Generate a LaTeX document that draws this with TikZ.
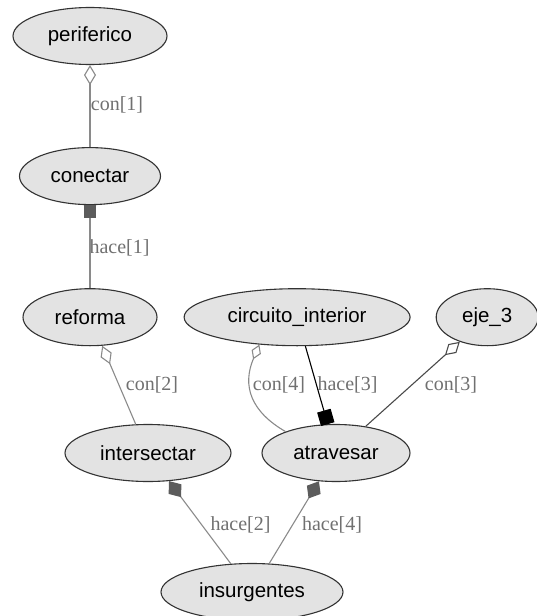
\documentclass[tikz,border=0pt]{standalone}
\usepackage{fontspec}
\setmainfont{Liberation Serif}
\newfontfamily\entfont{Liberation Sans}
\usepackage{tikz}
\usetikzlibrary{arrows.meta,shapes.geometric,positioning}

\definecolor{edgegray}{HTML}{8A8A8A}
\definecolor{darkedge}{HTML}{4A4A4A}
\definecolor{labelgray}{HTML}{707070}
\definecolor{tipgray}{HTML}{5C5C5C}

\begin{document}
\begin{tikzpicture}[x=1pt, y=1pt]
\tikzstyle{entity}=[ellipse,
                    draw=black!80,
                    fill=gray!22,
                    inner sep=0pt,
                    minimum height=57pt,
                    line width=1.1pt,
                    font=\entfont\fontsize{20.5}{24}\selectfont]
\tikzstyle{role}=[text=labelgray,
                  inner sep=0pt,
                  font=\fontsize{20}{24}\selectfont]
\tikzstyle{conedge}=[draw=edgegray, line width=1.1pt,
                     {Diamond[open,length=20pt,width=12pt]}-]
\tikzstyle{haceedge}=[draw=edgegray, line width=1.1pt]
\useasboundingbox (0,0) rectangle (536,-616);

\node[entity, minimum width=154pt] (periferico) at (90,-36) {periferico};
\node[entity, minimum width=141pt, below=82pt of periferico] (conectar) {conectar};
\node[entity, minimum width=134pt, below=83pt of conectar] (reforma) {reforma};
\node[entity, minimum width=226pt, right=26pt of reforma] (circuito) {circuito\_interior};
\node[entity, minimum width=102pt, right=25pt of circuito] (eje3) {eje\_3};

\node[entity, minimum width=166pt] (intersectar) at (148,-453) {intersectar};
\node[entity, minimum width=148pt] (atravesar) at (336,-453) {atravesar};
\node[entity, minimum width=182pt] (insurgentes) at (252,-592) {insurgentes};

\node[role] (con1) at (117,-105) {con[1]};
\node[role] (hace1) at (119.5,-248) {hace[1]};
\node[role] (con2) at (152,-385) {con[2]};
\node[role] (con4) at (279,-385) {con[4]};
\node[role] (hace3) at (347.5,-385) {hace[3]};
\node[role] (con3) at (451,-385) {con[3]};
\node[role] (hace2) at (240.5,-525) {hace[2]};
\node[role] (hace4) at (332,-525) {hace[4]};

\path[conedge]
(periferico) edge (conectar)
(reforma) edge (intersectar)
(eje3) edge[draw=darkedge] (atravesar);

% curved one, tip kept short so it sits on the first stretch
\draw[draw=edgegray, line width=1.1pt, {Diamond[open,length=16pt,width=10pt]}-]
(circuito.216) .. controls +(247:45) and +(150:40) .. (atravesar.157);

\path[haceedge]
(conectar) edge[{Square[length=13pt,width=12pt,color=tipgray]}-] (reforma)
(circuito) edge[draw=black, -{Square[length=14pt,width=14pt,color=black]}] (atravesar)
(insurgentes) edge[-{Diamond[length=20pt,width=16pt,color=tipgray]}] (intersectar)
(insurgentes) edge[-{Diamond[length=20pt,width=16pt,color=tipgray]}] (atravesar);
\end{tikzpicture}
\end{document}
